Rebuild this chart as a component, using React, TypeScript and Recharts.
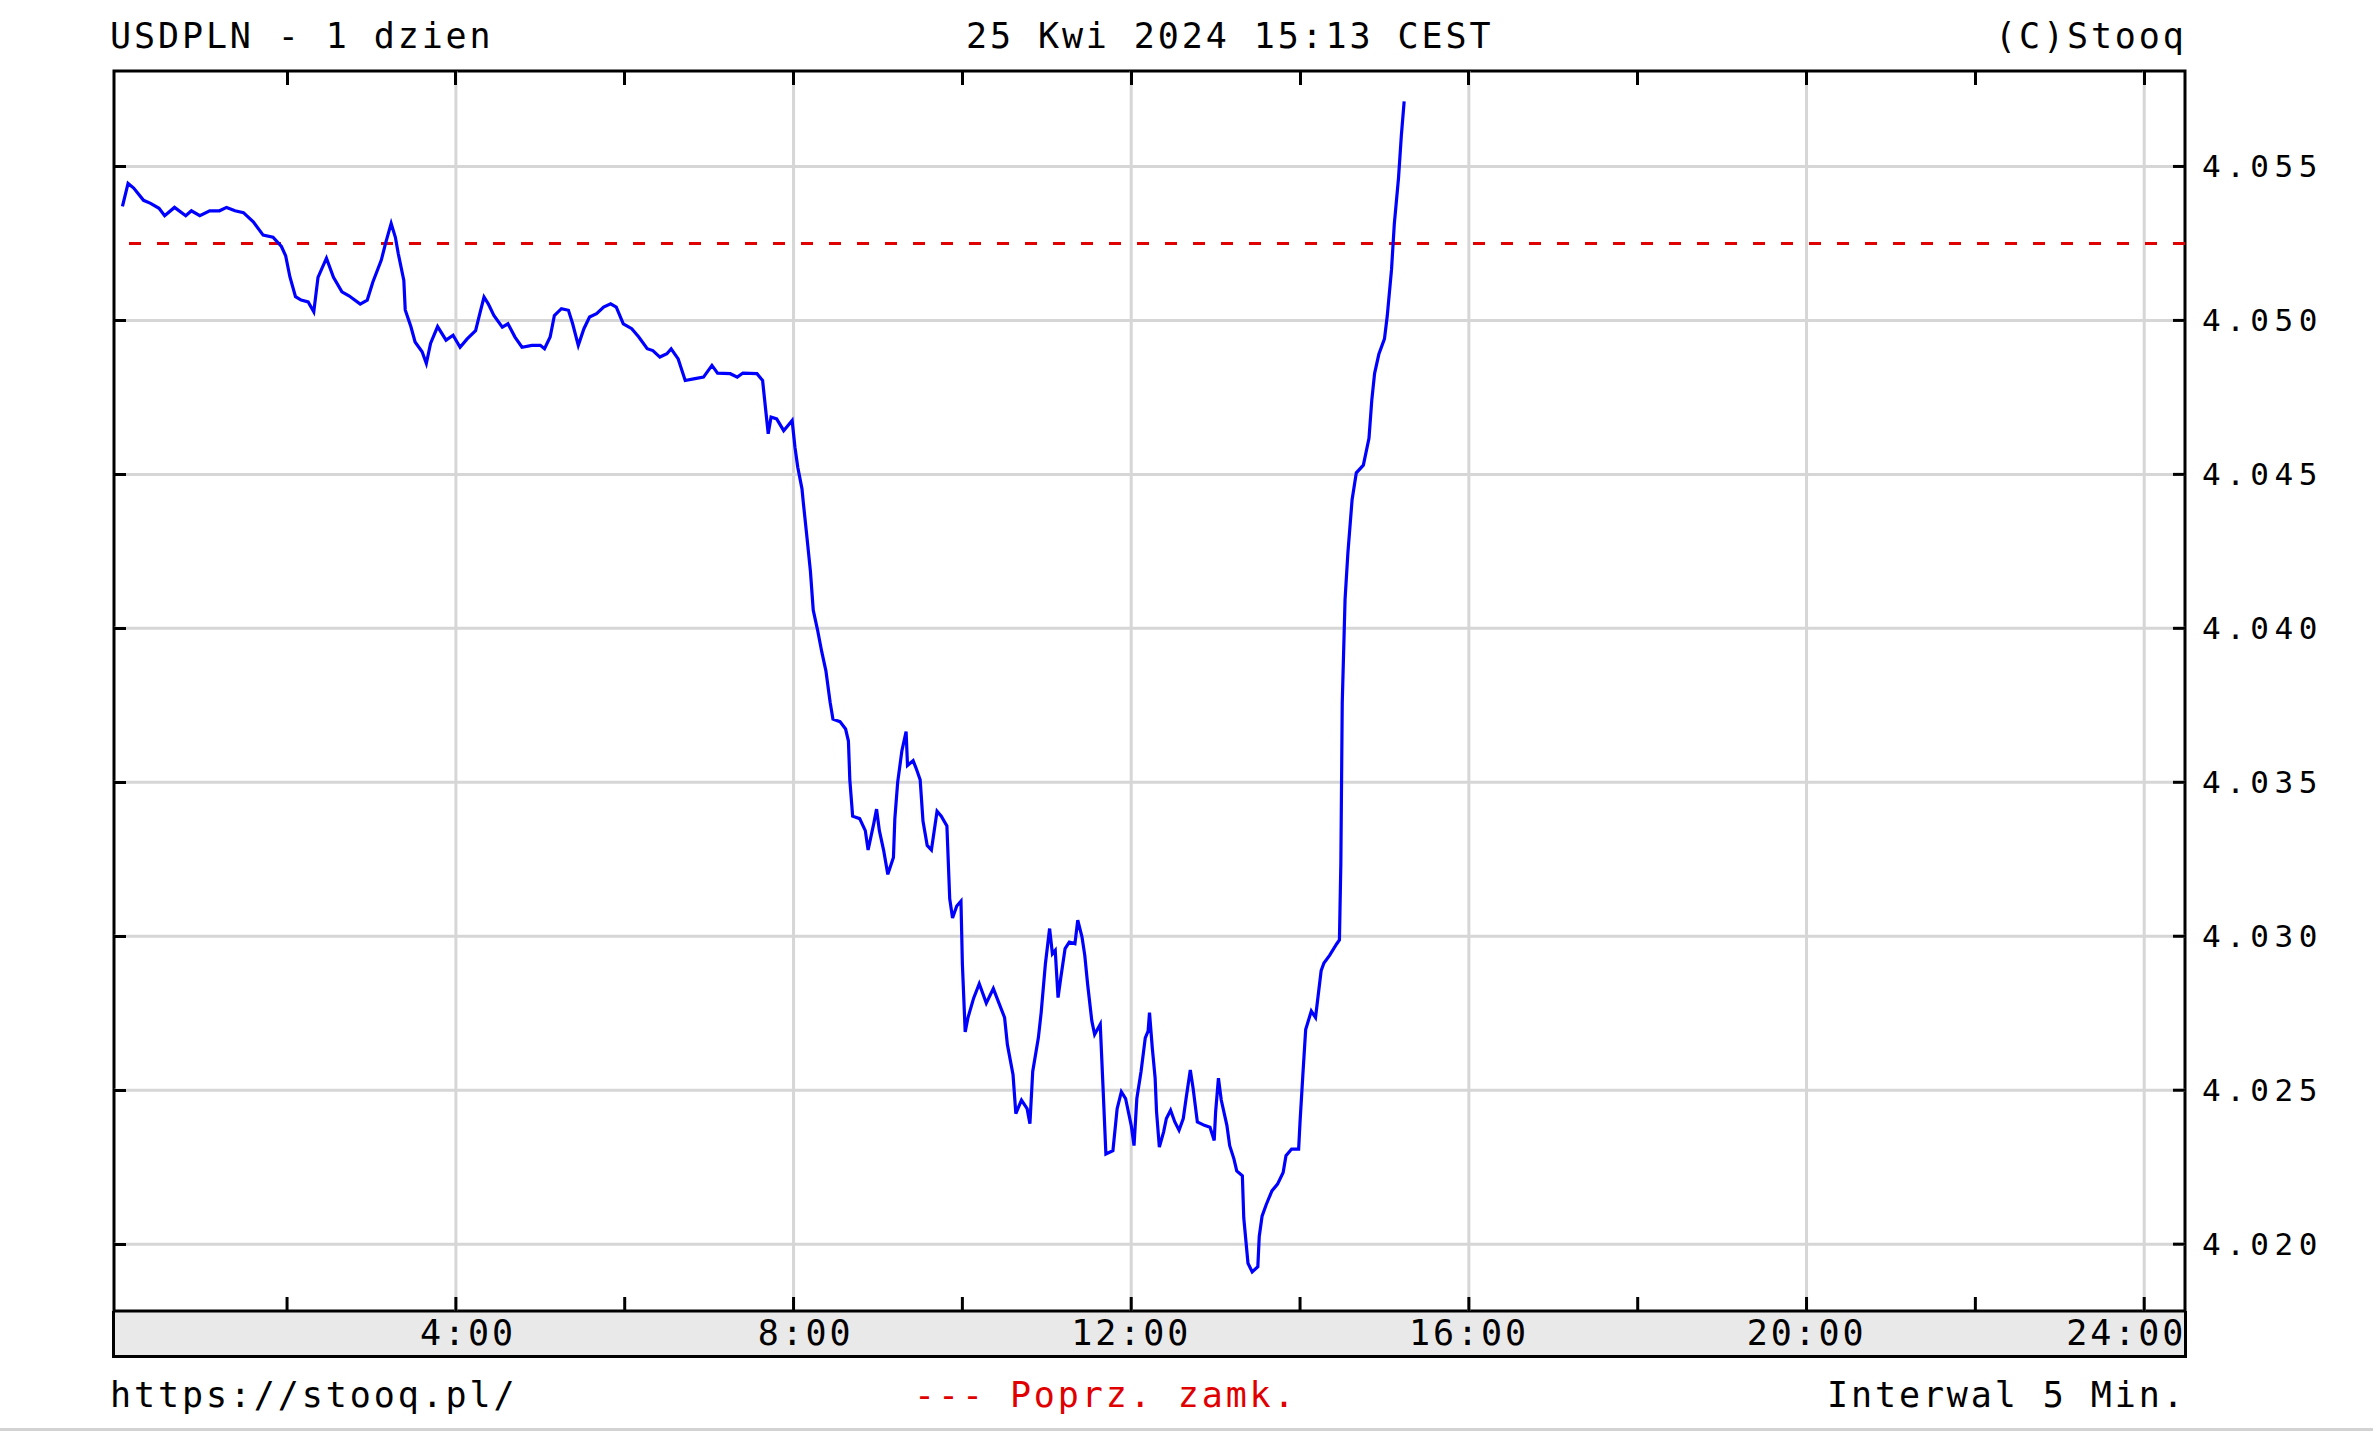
import { LineChart, Line, XAxis, YAxis, ReferenceLine, ReferenceArea } from "recharts"

// USD/PLN intraday, 25 Apr 2024 (minutes after midnight, price)
const minutes = [
  3, 7, 11, 18, 23, 29, 33, 40, 48, 52, 58, 65, 72, 77, 83, 89, 96, 103, 110, 116,
  119, 122, 126, 130, 135, 139, 142, 148, 153, 159, 164, 172, 177, 181, 187, 190, 194, 197, 199, 203,
  204, 208, 211, 216, 219, 222, 227, 233, 238, 243, 248, 254, 257, 260, 263, 267, 273, 277, 282, 287,
  294, 300, 303, 307, 310, 315, 320, 323, 327, 331, 335, 340, 345, 350, 354, 359, 365, 370, 376, 380,
  385, 390, 393, 398, 403, 409, 416, 422, 426, 435, 440, 444, 454, 458, 460, 462, 464, 468, 473, 479,
  481, 483, 486, 487, 489, 492, 494, 497, 500, 503, 506, 508, 513, 517, 519, 520, 522, 527, 531, 533,
  537, 539, 541, 544, 547, 551, 552, 554, 557, 560, 561, 565, 567, 570, 572, 575, 578, 582, 585, 589,
  591, 593, 596, 599, 600, 602, 604, 608, 612, 617, 622, 626, 630, 632, 636, 638, 642, 646, 648, 650,
  654, 656, 659, 662, 664, 666, 668, 670, 673, 676, 680, 682, 685, 687, 689, 692, 694, 698, 700, 702,
  707, 710, 713, 716, 720, 722, 724, 727, 730, 732, 733, 735, 737, 738, 740, 743, 745, 748, 751, 754,
  757, 759, 762, 764, 767, 772, 776, 779, 780, 782, 784, 788, 790, 793, 795, 799, 800, 803, 806, 810,
  811, 813, 816, 820, 824, 828, 830, 834, 839, 840, 842, 844, 848, 851, 855, 857, 861, 866, 868, 869,
  870, 872, 874, 877, 880, 885, 889, 891, 893, 896, 900, 902, 905, 907, 910, 912, 914,
]
const prices = [
  4.0537, 4.05445, 4.0543, 4.0539, 4.0538, 4.05364, 4.0534, 4.05367, 4.0534, 4.05356, 4.0534, 4.05356, 4.05356, 4.05367, 4.05356, 4.0535, 4.0532, 4.05277, 4.0527, 4.0524,
  4.0521, 4.05142, 4.05077, 4.05066, 4.0506, 4.05028, 4.0514, 4.05202, 4.0514, 4.05093, 4.0508, 4.05053, 4.05066, 4.05125, 4.05196, 4.0525, 4.05315, 4.0527, 4.05218, 4.0513,
  4.05034, 4.0498, 4.0493, 4.04898, 4.0486, 4.04925, 4.0498, 4.04936, 4.04952, 4.04913, 4.0494, 4.04967, 4.05022, 4.05076, 4.05054, 4.05016, 4.04978, 4.04989, 4.04946, 4.04913,
  4.04919, 4.04919, 4.04908, 4.04946, 4.05016, 4.05038, 4.05033, 4.04989, 4.04919, 4.04973, 4.05011, 4.05022, 4.05043, 4.05054, 4.05043, 4.04989, 4.04973, 4.04946, 4.04908, 4.04902,
  4.04881, 4.04892, 4.04908, 4.04875, 4.04805, 4.0481, 4.04816, 4.04854, 4.04829, 4.04827, 4.04816, 4.04829, 4.04827, 4.04805, 4.04718, 4.04632, 4.04686, 4.0468, 4.04642, 4.04675,
  4.04588, 4.04523, 4.04453, 4.04406, 4.04319, 4.04185, 4.04059, 4.03996, 4.03925, 4.03862, 4.0376, 4.03705, 4.03697, 4.03673, 4.03634, 4.03508, 4.0339, 4.03382, 4.03343, 4.0328,
  4.03366, 4.03413, 4.03343, 4.0328, 4.03201, 4.03256, 4.03382, 4.035, 4.03602, 4.03665, 4.03555, 4.0357, 4.03547, 4.03508, 4.03374, 4.03295, 4.0328, 4.03406, 4.0339, 4.03358,
  4.03122, 4.03059, 4.03098, 4.03114, 4.0291, 4.02689, 4.02736, 4.02799, 4.02846, 4.02783, 4.0283, 4.02783, 4.02736, 4.02648, 4.0255, 4.02424, 4.02468, 4.0244, 4.02391, 4.02561,
  4.0267, 4.02752, 4.0291, 4.03025, 4.02943, 4.02954, 4.02801, 4.02867, 4.0296, 4.02981, 4.02976, 4.03052, 4.02998, 4.02938, 4.02845, 4.02725, 4.02681, 4.02714, 4.02506, 4.02293,
  4.02304, 4.0244, 4.02495, 4.02473, 4.02386, 4.0232, 4.02473, 4.02561, 4.0267, 4.02692, 4.02752, 4.02637, 4.02539, 4.0243, 4.02315, 4.02364, 4.02408, 4.02435, 4.02397, 4.0237,
  4.02408, 4.02473, 4.02566, 4.02506, 4.02397, 4.02386, 4.0238, 4.02337, 4.0243, 4.02539, 4.02468, 4.02386, 4.0232, 4.02277, 4.02238, 4.02222, 4.02085, 4.01938, 4.0191, 4.01927,
  4.02025, 4.02091, 4.02129, 4.02173, 4.02195, 4.02233, 4.02287, 4.02309, 4.02309, 4.02397, 4.0255, 4.02697, 4.02757, 4.02736, 4.02888, 4.02913, 4.02938, 4.02975, 4.02988, 4.03236,
  4.03759, 4.04094, 4.04244, 4.04418, 4.04505, 4.0453, 4.04617, 4.04741, 4.04828, 4.0489, 4.0494, 4.05015, 4.05164, 4.05313, 4.05463, 4.056, 4.05711,
]

const priceTicks = [4.02, 4.025, 4.03, 4.035, 4.04, 4.045, 4.05, 4.055]
const hourTicks = [120, 240, 360, 480, 600, 720, 840, 960, 1080, 1200, 1320, 1440]
const gridHours = [240, 480, 720, 960, 1200, 1440]
const prevClose = 4.0525
const timeDomain: [number, number] = [-3, 1469]
const priceDomain: [number, number] = [4.01783, 4.0581]

const data = minutes.map((t, i) => ({ t, p: prices[i] }))

// plot box (matches the chart margins below), used for the frame's top/left tick marks
const BOX = { left: 114, top: 71, width: 2071, height: 1240 }
const tx = (m: number) => BOX.left + ((m - timeDomain[0]) / (timeDomain[1] - timeDomain[0])) * BOX.width
const ty = (v: number) => BOX.top + ((priceDomain[1] - v) / (priceDomain[1] - priceDomain[0])) * BOX.height

const MONO = "'DejaVu Sans Mono', monospace"
const txt = { fontFamily: MONO, fontSize: 35, letterSpacing: 2.9 }
const numTxt = { fontFamily: MONO, fontSize: 31, letterSpacing: 5.5 }
const tickStroke = { stroke: "#000", strokeWidth: 3 }

function TimeTick({ x, y, payload }: any) {
  const h = payload.value / 60
  if (h % 4 !== 0) return <g />
  return (
    <text x={x + (h === 24 ? 42 : 60)} y={y + 22} textAnchor="end" dominantBaseline="central" fill="#000" {...txt}>
      {`${h}:00`}
    </text>
  )
}

function PriceTick({ x, y, payload }: any) {
  return (
    <text x={x} y={y} dominantBaseline="central" fill="#000" {...numTxt}>
      {Number(payload.value).toFixed(3)}
    </text>
  )
}

function Label({ left, cy, color = "#000", children }: any) {
  return (
    <div style={{ position: "absolute", left, top: cy - 22, height: 44, lineHeight: "44px", whiteSpace: "pre", color, fontFamily: MONO, fontSize: 35, letterSpacing: "2.9px" }}>
      {children}
    </div>
  )
}

export default function App() {
  return (
    <div style={{ position: "absolute", left: 0, top: 0, width: 2373, height: 1440, background: "#fff", overflow: "hidden" }}>
      <div style={{ position: "absolute", left: 112, top: 1311, width: 2075, height: 47, boxSizing: "border-box", background: "#e9e9e9", borderLeft: "3px solid #000", borderRight: "3px solid #000", borderBottom: "3px solid #000" }} />
      <div style={{ position: "absolute", left: 0, top: 1428, width: 2373, height: 3, background: "#d2d2d2" }} />
      <Label left={110} cy={36}>USDPLN - 1 dzien</Label>
      <Label left={966} cy={36}>25 Kwi 2024 15:13 CEST</Label>
      <Label left={1995} cy={36}>(C)Stooq</Label>
      <Label left={110} cy={1395}>https://stooq.pl/</Label>
      <Label left={914} cy={1395} color="#e00000">--- Poprz. zamk.</Label>
      <Label left={1827} cy={1395}>Interwal 5 Min.</Label>
      <div style={{ position: "absolute", left: 0, top: 0 }}>
        <LineChart width={2373} height={1440} data={data} margin={{ top: BOX.top, right: 0, bottom: 83, left: BOX.left }}>
          <XAxis xAxisId="time" dataKey="t" type="number" domain={timeDomain} allowDataOverflow ticks={hourTicks} interval={0}
            height={46} axisLine={false} tickSize={-14} tickMargin={14} tickLine={tickStroke} tick={<TimeTick />} />
          <YAxis yAxisId="price" orientation="right" type="number" domain={priceDomain} allowDataOverflow ticks={priceTicks} interval={0}
            width={188} axisLine={false} tickSize={-12} tickMargin={29} tickLine={tickStroke} tick={<PriceTick />} />
          {priceTicks.map((v) => (
            <ReferenceLine key={`h${v}`} xAxisId="time" yAxisId="price" y={v} stroke="#d6d6d6" strokeWidth={3} />
          ))}
          {gridHours.map((m) => (
            <ReferenceLine key={`v${m}`} xAxisId="time" yAxisId="price" x={m} stroke="#d6d6d6" strokeWidth={3} />
          ))}
          <ReferenceLine xAxisId="time" yAxisId="price" y={prevClose} stroke="#e00000" strokeWidth={3} strokeDasharray="12 16" />
          <Line xAxisId="time" yAxisId="price" dataKey="p" type="linear" stroke="#0000ff" strokeWidth={3.2} dot={false} isAnimationActive={false} />
          <ReferenceArea xAxisId="time" yAxisId="price" x1={timeDomain[0]} x2={timeDomain[1]} y1={priceDomain[0]} y2={priceDomain[1]}
            fill="none" fillOpacity={0} stroke="#000" strokeWidth={3} ifOverflow="visible" />
        </LineChart>
      </div>
      {/* inward tick marks on the top and left frame edges */}
      {hourTicks.map((m) => (
        <div key={`tt${m}`} style={{ position: "absolute", left: tx(m) - 1.5, top: BOX.top, width: 3, height: 14, background: "#000" }} />
      ))}
      {priceTicks.map((v) => (
        <div key={`lt${v}`} style={{ position: "absolute", left: BOX.left, top: ty(v) - 1.5, width: 12, height: 3, background: "#000" }} />
      ))}
    </div>
  )
}
